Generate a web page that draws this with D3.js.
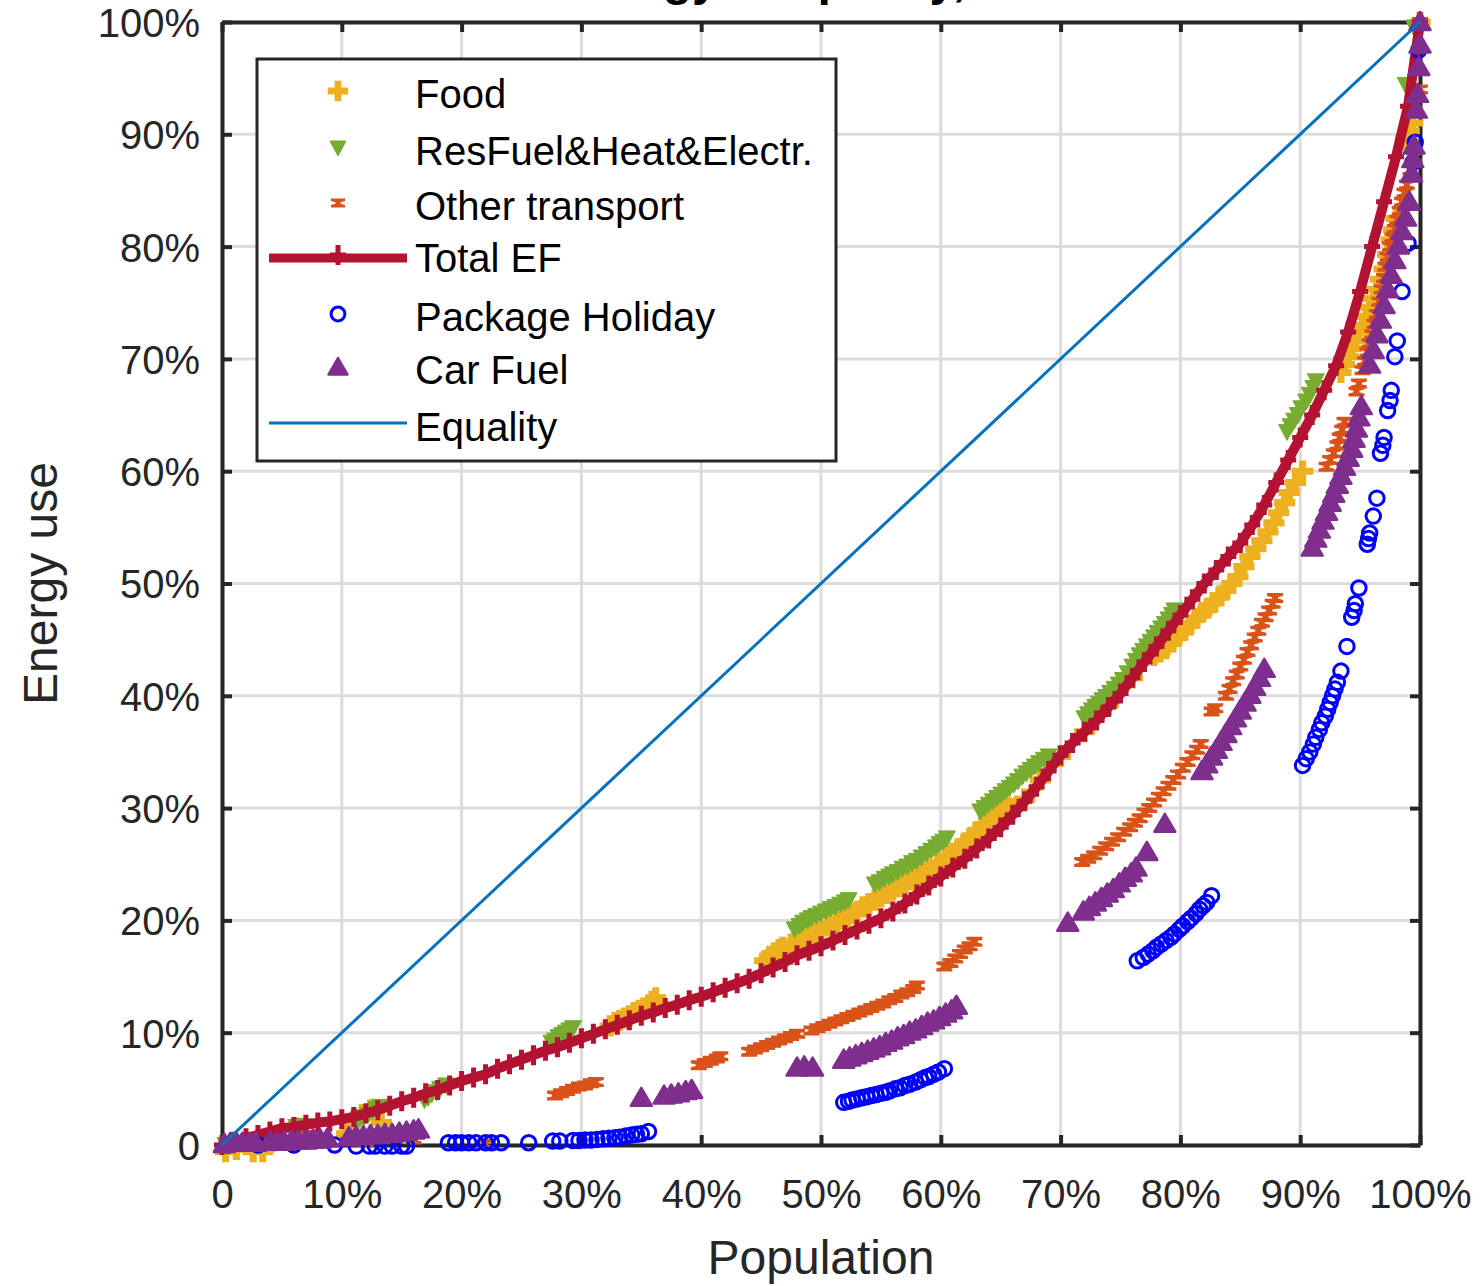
<!DOCTYPE html>
<html><head><meta charset="utf-8">
<script src="https://cdn.jsdelivr.net/npm/d3@7"></script>
<style>body{margin:0;background:#fff;} svg{display:block;font-family:"Liberation Sans",Arial,Helvetica,sans-serif;}</style>
</head><body>
<svg id="chart" width="1483" height="1286"></svg>
<script>
// ---------- data (population %, cumulative energy use %) ----------
const titleText = "Energy inequality, 2013";
const xAxisTitle = "Population";
const yAxisTitle = "Energy use";
const tickValues = [0,10,20,30,40,50,60,70,80,90,100];
const xTickLabels = ["0","10%","20%","30%","40%","50%","60%","70%","80%","90%","100%"];
const yTickLabels = ["0","10%","20%","30%","40%","50%","60%","70%","80%","90%","100%"];
const seriesNames = ["Food","ResFuel&Heat&Electr.","Other transport","Total EF","Package Holiday","Car Fuel","Equality"];

const food = [[0.3,-0.6],[1.2,-0.4],[2.6,-0.6],[3.4,-0.6],[4.2,0.3],[5,0.6],[6.2,1.5],[10.4,1.0],[11,2.2],[11.7,2.7],[12.4,3.1],[13.3,2.0],
 [32.4,10.6],[32.8,10.9],[33.2,11.1],[33.6,11.3],[34,11.5],[34.4,11.8],[34.8,12],[35.2,12.2],[35.6,12.4],[35.9,12.8],[36.2,13.1],
 [45.3,16.4],[45.7,16.8],[46.1,17.1],[46.5,17.4],[46.8,17.6],[47.5,17.9],[48,18.1],[48.5,18.4],[49,18.6],[49.5,18.9],[50,19.1],
 [50.6,19.5],[51.3,19.8],[51.8,20.1],[52.2,20.3],[52.6,20.6],[53,20.8],[53.5,21.2],[54,21.5],[54.5,21.8],[55,22.1],[55.5,22.4],
 [56,22.7],[56.5,23.0],[57,23.3],[57.5,23.6],[58,23.9],[58.5,24.2],[59,24.5],[59.7,25.1],[60.5,25.7],[61,26.0],[61.5,26.4],[62,26.9],
 [62.5,27.4],[63,27.9],[63.5,28.4],[64,29],[64.5,29.5],[65,30.1],[65.5,30.6],
 [67,30.8],[68.3,32.5],[70,34.6],[72,36.8],[74,39.2],[76,41.6],[77.8,43.6],[78.3,43.9],[78.8,44.2],[79.3,44.8],[79.8,45.3],[80.3,45.8],
 [80.8,46.3],[81.3,46.9],[81.8,47.4],[82.3,47.8],[82.8,48.3],[83.3,48.9],[83.8,49.4],[84.3,50],[84.8,50.6],[85.3,51.5],[85.8,52.4],
 [86.3,53.1],[86.8,53.8],[87.3,54.6],[87.8,55.4],[88.2,56.3],[88.7,57.2],[89.1,58.1],[89.6,59],[90.2,60],
 [93.4,68.8],[93.7,69.5],[94,70.2],[94.3,70.9],[94.6,71.6],[94.9,72.3],[95.2,73],[95.5,73.8],[95.8,74.6],[96.1,75.4],[96.4,76.2],
 [96.7,77.1],[97,78],[97.3,79.3],[97.6,80.6],[97.8,81.5],[98,82.5],[98.8,89.6],[99.1,90.3],[99.4,91],[100,100]];

const resFuel = [[0.3,0],[6.2,1.6],[6.8,1.7],[11.2,2.1],[11.5,2.3],[11.8,2.5],[12.2,2.7],[12.6,3.0],[12.9,3.2],[13.2,3.4],
 [16.9,4.0],[17.2,4.2],[17.5,4.5],[17.9,4.7],[18.2,5.0],[18.7,5.3],
 [27.5,9.1],[27.8,9.3],[28.1,9.6],[28.4,9.8],[28.7,10.0],[29,10.2],[29.3,10.4],
 [47.8,19.2],[48.2,19.5],[48.5,19.8],[48.9,20],[49.2,20.2],[49.6,20.4],[50,20.6],[50.4,20.8],[50.8,21.0],[51.2,21.2],[51.6,21.4],
 [52,21.6],[52.3,21.8],
 [54.5,23.2],[54.9,23.4],[55.3,23.7],[55.7,23.9],[56,24.1],[56.4,24.3],[56.8,24.6],[57.2,24.8],[57.6,25.1],[58,25.3],[58.4,25.6],
 [58.8,25.9],[59.2,26.2],[59.6,26.5],[59.9,26.8],[60.2,27],[60.5,27.3],
 [63.3,29.7],[63.65,30],[64,30.3],[64.35,30.6],[64.7,30.9],[65.05,31.2],[65.4,31.5],[65.75,31.8],[66.1,32.1],[66.45,32.4],[66.8,32.8],
 [67.15,33.1],[67.5,33.4],[67.85,33.7],[68.2,34.0],[68.6,34.3],[69,34.6],
 [72,38.0],[72.3,38.35],[72.6,38.7],[72.9,39],[73.2,39.3],[73.5,39.6],[73.8,39.9],[74.15,40.25],[74.5,40.6],[74.85,41],[75.2,41.4],
 [75.6,42],[76,42.6],[76.3,43.1],[76.6,43.6],[76.9,44],[77.2,44.4],[77.5,44.8],[77.8,45.2],[78.1,45.6],[78.4,46],[78.7,46.4],[79,46.8],
 [79.3,47.2],[79.5,47.6],
 [88.9,63.5],[89.2,64],[89.5,64.5],[89.8,65],[90.1,65.6],[90.5,66.2],[90.8,66.8],[91.1,67.4],[91.3,68],[98.8,94.4],[99.5,99.5]];

const otherTransport = [[0.5,0],[4,0.2],[7.2,0.9],[12,0.3],[16,0.5],[22,0.1],
 [27.8,4.4],[28.3,4.6],[28.8,4.8],[29.3,5.0],[29.8,5.2],[30.3,5.3],[30.8,5.5],[31.2,5.6],
 [39.8,7.1],[40.3,7.3],[40.8,7.5],[41.3,7.7],[41.6,7.9],
 [44,8.3],[44.5,8.5],[45,8.7],[45.5,8.9],[46,9.1],[46.5,9.3],[47,9.5],[47.5,9.7],[48,9.9],
 [49.2,10.2],[49.7,10.4],[50.2,10.6],[50.7,10.8],[51.2,11],[51.7,11.2],[52.2,11.4],[52.7,11.6],[53.2,11.8],[53.7,12.0],[54.2,12.2],
 [54.7,12.4],[55.2,12.6],[55.7,12.9],[56.2,13.1],[56.7,13.4],[57.2,13.6],[57.7,13.9],[58,14.2],
 [60.3,15.9],[60.8,16.2],[61.2,16.6],[61.6,17.0],[62,17.4],[62.4,17.7],[62.8,18.1],
 [71.8,25.2],[72.3,25.5],[72.8,25.8],[73.3,26.2],[73.8,26.6],[74.3,27],[74.8,27.4],[75.3,27.9],[75.8,28.3],[76.2,28.7],[76.6,29.1],
 [77,29.6],[77.4,30],[77.8,30.5],[78.2,31],[78.6,31.5],[79,32],[79.4,32.5],[79.8,33],[80.2,33.6],[80.6,34.1],[81,34.7],[81.4,35.2],[81.7,35.7],
 [82.6,38.6],[82.9,38.9],
 [83.8,40],[84.1,40.6],[84.4,41.3],[84.7,41.9],[85,42.6],[85.3,43.2],[85.6,43.9],[85.9,44.5],[86.2,45.2],[86.5,45.8],[86.8,46.5],
 [87.1,47],[87.4,47.6],[87.7,48.2],[87.9,48.7],
 [92.2,60.4],[92.5,61],[92.8,61.6],[93.1,62.3],[93.3,63],[93.5,63.7],[93.7,64.4],
 [94.7,67.1],[94.9,67.8],[95.2,69],[95.4,69.8],[95.6,70.6],[95.8,71.4],[96,72.2],[96.2,73.1],[96.4,74],[96.6,75.1],[96.8,76.2],
 [97,77.2],[97.1,78.2],[97.3,79.1],[97.5,80],[97.7,80.8],[97.9,81.6],[98.1,82.4],[98.3,83.2],[98.5,84],[98.7,84.8],[98.9,85.5],
 [99.2,86.2],[99.5,88],[100,94],[100,100]];

const totalEF = [[0,0],[1,0.3],[2,0.6],[3,0.9],[4,1.2],[5,1.5],[6,1.6],[7,1.8],[8,2.0],[9,2.1],[10,2.3],[11,2.5],[12,2.8],[13,3.1],
 [14,3.5],[15,3.9],[16,4.2],[17,4.6],[18,4.9],[19,5.3],[20,5.7],[21,6.0],[22,6.3],[23,6.8],[24,7.2],[25,7.6],[26,8.0],[27,8.4],
 [28,8.7],[29,9.1],[30,9.5],[31,9.9],[32,10.3],[33,10.7],[34,11.1],[35,11.5],[36,11.8],[37,12.2],[38,12.5],[39,12.9],[40,13.2],
 [41,13.6],[42,14.0],[43,14.4],[44,14.8],[45,15.3],[46,15.8],[47,16.3],[48,16.9],[49,17.3],[50,17.7],[51,18.2],[52,18.7],[53,19.2],
 [54,19.7],[55,20.2],[56,20.8],[57,21.5],[58,22.3],[59,23.1],[60,23.9],[61,24.7],[62,25.5],[63,26.4],[64,27.3],[65,28.3],[66,29.4],
 [67,30.6],[68,31.9],[69,33.3],[70,34.7],[71,35.8],[72,36.8],[73,37.8],[74,39.0],[75,40.2],[76,41.6],[77,43.0],[78,44.4],[79,45.8],
 [80,47.2],[81,48.6],[82,50.0],[83,51.2],[84,52.4],[85,53.6],[86,55.2],[87,57.0],[88,59.0],[89,61.0],[90,63.0],[91,65.0],[92,67.2],
 [93,69.4],[94,72.4],[95,76.0],[96,80.0],[97,84.0],[98,88.0],[99,92.5],[100,100]];

const packageHoliday = [[0.5,0],[3,0],[6,0],[9.4,0],[11.2,-0.1],[12.3,-0.1],[12.8,-0.1],[13.6,-0.1],[14.2,-0.1],[15,-0.1],[15.4,-0.1],
 [18.9,0.2],[19.5,0.2],[20,0.2],[20.6,0.2],[21.2,0.2],[22,0.2],[22.5,0.2],[23.3,0.2],[25.6,0.2],[27.6,0.35],[28.2,0.35],[29.3,0.4],
 [29.8,0.4],[30.3,0.45],[30.8,0.45],[31.3,0.5],[31.8,0.55],[32.3,0.6],[32.8,0.65],[33.2,0.7],[33.7,0.8],[34.2,0.9],[34.6,0.95],
 [35,1.0],[35.6,1.2],
 [51.9,3.8],[52.3,3.9],[52.6,4.0],[53,4.1],[53.4,4.2],[53.8,4.3],[54.2,4.4],[54.6,4.5],[55,4.6],[55.4,4.7],[55.7,4.8],[56.2,5.0],
 [56.6,5.1],[57,5.3],[57.4,5.4],[57.9,5.6],[58.3,5.8],[58.7,6.0],[59,6.1],[59.4,6.3],[59.8,6.5],[60.3,6.8],
 [76.4,16.4],[76.9,16.7],[77.3,17],[77.7,17.3],[78,17.6],[78.4,17.9],[78.8,18.2],[79.2,18.5],[79.5,18.8],[79.9,19.2],[80.2,19.5],
 [80.6,19.9],[80.9,20.2],[81.3,20.6],[81.6,21],[81.9,21.3],[82.2,21.6],[82.6,22.2],
 [90.2,33.8],[90.5,34.4],[90.8,35],[91.1,35.7],[91.3,36.3],[91.6,37],[91.8,37.6],[92.1,38.2],[92.3,38.8],[92.5,39.4],[92.7,40],
 [92.9,40.6],[93.1,41.2],[93.4,42.2],[93.9,44.4],[94.3,47],[94.5,47.6],[94.6,48.2],[94.9,49.6],[95.6,53.5],[95.7,54],[95.8,54.5],
 [96.1,56],[96.4,57.6],[96.7,61.6],[96.9,62.3],[97,63],[97.3,65.4],[97.5,66.3],[97.6,67.2],[97.9,70.2],[98.1,71.6],[98.5,76],
 [99,80.3],[99.4,87.5],[99.6,89.3],[99.9,97.5]];

const carFuel = [[0.2,0.1],[0.7,0.2],[1.2,0.2],[1.7,0.2],[2.3,0.2],[2.8,0.2],[4,0.3],[4.6,0.3],[5.2,0.3],[5.8,0.4],[6.4,0.4],[7,0.4],
 [7.6,0.5],[8.2,0.5],[8.8,0.6],[10.6,0.7],[11.2,0.8],[11.8,0.8],[12.4,0.9],[13,0.9],[13.6,1.0],[14.2,1.0],[14.8,1.1],[15.4,1.2],
 [16,1.3],[16.4,1.4],
 [35,4.2],[36.9,4.4],[37.5,4.5],[38.1,4.6],[38.7,4.8],[39.2,4.9],
 [48,6.9],[48.6,7.0],[49.3,6.9],
 [51.9,7.6],[52.4,7.8],[52.9,8.0],[53.4,8.2],[53.9,8.4],[54.4,8.6],[54.9,8.8],[55.4,9.1],[55.9,9.3],[56.4,9.6],[56.9,9.8],[57.4,10.1],
 [57.9,10.3],[58.4,10.6],[58.9,10.9],[59.4,11.1],[59.9,11.4],[60.4,11.7],[60.9,12.0],[61.3,12.4],
 [70.6,19.8],
 [71.9,20.8],[72.4,21.2],[72.9,21.6],[73.4,22.0],[73.9,22.4],[74.4,22.8],[74.9,23.3],[75.4,23.8],[75.9,24.2],[76.3,24.7],
 [77.2,26.1],[78.7,28.6],
 [81.8,33.3],[82.2,33.9],[82.6,34.6],[83,35.2],[83.4,35.9],[83.8,36.6],[84.2,37.3],[84.6,38.0],[85,38.7],[85.4,39.4],[85.8,40.1],
 [86.2,40.8],[86.6,41.6],[87,42.4],
 [91,53.2],[91.3,54.0],[91.6,54.8],[91.9,55.6],[92.2,56.4],[92.5,57.2],[92.8,58.0],[93.1,58.8],[93.4,59.6],[93.7,60.4],[94,61.2],
 [94.3,62],[94.5,62.9],[94.7,63.8],[94.9,64.8],[95.1,65.8],
 [95.8,69.5],[96.1,70.8],[96.4,72.2],[96.7,73.5],[97,74.8],[97.3,76.2],[97.6,77.5],[97.9,78.8],[98.2,80.1],[98.5,81.4],[98.8,82.6],
 [99.1,84],[99.3,86.5],[99.4,87.8],[99.5,89],[99.7,92.2],[99.8,93.6],[99.9,96],[100,98],[100,100]];

const equality = [[0,0],[100,100]];

// ---------- layout ----------
const svg = d3.select("#chart");
const x = d3.scaleLinear().domain([0,100]).range([222,1420]);
const y = d3.scaleLinear().domain([0,100]).range([1145,22]);
const axisColor = "#262626";

// title (cropped at the top edge, as in the reference)
svg.append("text").attr("x",(x(0)+x(100))/2).attr("y",-5).attr("text-anchor","middle")
  .attr("font-size",48).attr("font-weight","bold").attr("fill","#000").text(titleText);

// grid
const grid = svg.append("g");
tickValues.forEach(v=>{
  grid.append("line").attr("x1",x(v)).attr("x2",x(v)).attr("y1",y(0)).attr("y2",y(100))
    .attr("stroke","#dcdcdc").attr("stroke-width",3);
  grid.append("line").attr("x1",x(0)).attr("x2",x(100)).attr("y1",y(v)).attr("y2",y(v))
    .attr("stroke","#dcdcdc").attr("stroke-width",3);
});

// axes (ticks inward)
const xb = svg.append("g").attr("transform",`translate(0,${y(0)})`)
  .call(d3.axisBottom(x).tickValues(tickValues).tickFormat((d,i)=>xTickLabels[i]).tickSizeInner(-10).tickSizeOuter(0).tickPadding(63));
const xt = svg.append("g").attr("transform",`translate(0,${y(100)})`)
  .call(d3.axisTop(x).tickValues(tickValues).tickFormat("").tickSizeInner(-10).tickSizeOuter(0));
const yl = svg.append("g").attr("transform",`translate(${x(0)},0)`)
  .call(d3.axisLeft(y).tickValues(tickValues).tickFormat((d,i)=>yTickLabels[i]).tickSizeInner(-10).tickSizeOuter(0).tickPadding(22));
const yr = svg.append("g").attr("transform",`translate(${x(100)},0)`)
  .call(d3.axisRight(y).tickValues(tickValues).tickFormat("").tickSizeInner(-10).tickSizeOuter(0));
[xb,xt,yl,yr].forEach(g=>{
  g.select(".domain").attr("stroke",axisColor).attr("stroke-width",4);
  g.selectAll(".tick line").attr("stroke",axisColor).attr("stroke-width",4);
  g.selectAll("text").attr("fill",axisColor).attr("font-size",40).attr("font-family","Liberation Sans, Arial, sans-serif");
});
xb.selectAll("text").attr("dy","0");
yl.selectAll("text").attr("dy","0.36em");

// axis titles
svg.append("text").attr("x",(x(0)+x(100))/2).attr("y",1274).attr("text-anchor","middle")
  .attr("font-size",48).attr("fill",axisColor).text(xAxisTitle);
svg.append("text").attr("transform",`translate(57,${(y(0)+y(100))/2}) rotate(-90)`).attr("text-anchor","middle")
  .attr("font-size",48).attr("fill",axisColor).text(yAxisTitle);

// ---------- markers ----------
const SYM = {
  plusFilled: d3.symbol(d3.symbolCross, 250)(),
  triDown: "M-8.5,-7.5L8.5,-7.5L0,8.5Z",
  bowtie: "M-8,-5L8,-5L8,-2L3,-0.8L3,0.8L8,2L8,5L-8,5L-8,2L-3,0.8L-3,-0.8L-8,-2Z",
  plus: "M-8,0H8M0,-10V10",
  circle: d3.symbol(d3.symbolCircle, 165)(),
  triUp: "M0,-10L10.5,8L-10.5,8Z"
};
const styles = {
  "Food": {d:SYM.plusFilled, fill:"#EDB120", stroke:"none", sw:0},
  "ResFuel&Heat&Electr.": {d:SYM.triDown, fill:"#77AC30", stroke:"#77AC30", sw:1},
  "Other transport": {d:SYM.bowtie, fill:"#D95319", stroke:"none", sw:0},
  "Total EF": {d:SYM.plus, fill:"none", stroke:"#B31231", sw:5, line:10},
  "Package Holiday": {d:SYM.circle, fill:"none", stroke:"#0000FF", sw:3},
  "Car Fuel": {d:SYM.triUp, fill:"#7E2F8E", stroke:"#7E2F8E", sw:2.5},
  "Equality": {line:3, stroke:"#0072BD"}
};
const legendSym = {
  "Food": d3.symbol(d3.symbolCross, 230)(),
  "ResFuel&Heat&Electr.": "M-8,-7L8,-7L0,8Z",
  "Other transport": "M-7,-4.5L7,-4.5L7,-2L2.5,-0.8L2.5,0.8L7,2L7,4.5L-7,4.5L-7,2L-2.5,0.8L-2.5,-0.8L-7,-2Z",
  "Total EF": SYM.plus,
  "Package Holiday": d3.symbol(d3.symbolCircle, 150)(),
  "Car Fuel": "M0,-9L9.5,7.5L-9.5,7.5Z"
};
const dataByName = {
  "Food":food, "ResFuel&Heat&Electr.":resFuel, "Other transport":otherTransport, "Total EF":totalEF,
  "Package Holiday":packageHoliday, "Car Fuel":carFuel, "Equality":equality
};
const line = d3.line().x(d=>x(d[0])).y(d=>y(d[1]));
const plot = svg.append("g");

function drawMarkers(g, data, st){
  g.selectAll("path.m").data(data).join("path").attr("class","m")
    .attr("d",st.d).attr("transform",d=>`translate(${x(d[0])},${y(d[1])})`)
    .attr("fill",st.fill).attr("stroke",st.stroke).attr("stroke-width",st.sw)
    .attr("stroke-linejoin","round");
}
seriesNames.forEach(name=>{
  const st = styles[name], data = dataByName[name];
  const g = plot.append("g");
  if (name === "Total EF"){
    g.append("path").datum(data).attr("d",line).attr("fill","none").attr("stroke",st.stroke)
      .attr("stroke-width",st.line).attr("stroke-linejoin","round");
    drawMarkers(g, data, st);
  } else if (name === "Equality"){
    g.append("path").datum(data).attr("d",line).attr("fill","none").attr("stroke",st.stroke).attr("stroke-width",st.line);
  } else {
    drawMarkers(g, data, st);
  }
});

// ---------- legend ----------
const lg = svg.append("g");
lg.append("rect").attr("x",257).attr("y",59).attr("width",579).attr("height",402)
  .attr("fill","#fff").attr("stroke",axisColor).attr("stroke-width",3);
const rowY = [94,151,206,258,317,370,427];
seriesNames.forEach((name,i)=>{
  const st = styles[name], cy = rowY[i];
  if (name === "Total EF" || name === "Equality"){
    const ly = cy-(name==="Equality"?4:0);
    lg.append("line").attr("x1",269).attr("x2",407).attr("y1",ly).attr("y2",ly)
      .attr("stroke",st.stroke).attr("stroke-width",name==="Total EF"?9:3);
  }
  if (legendSym[name]){
    lg.append("path").attr("d",legendSym[name]).attr("transform",`translate(338,${cy-3})`)
      .attr("fill",st.fill).attr("stroke",st.stroke).attr("stroke-width",st.sw).attr("stroke-linejoin","round");
  }
  lg.append("text").attr("x",415).attr("y",cy+14).attr("font-size",40).attr("fill","#000").text(name);
});
</script>
</body></html>
